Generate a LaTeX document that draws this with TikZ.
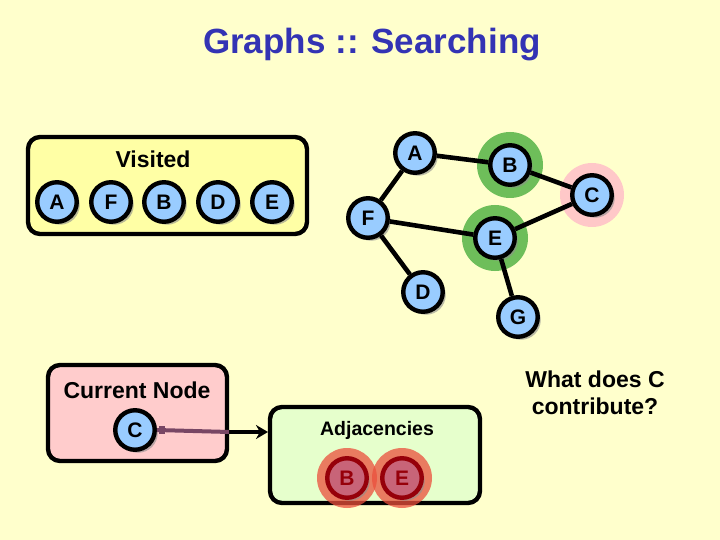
\documentclass[tikz,border=0pt]{standalone}
\usepackage{fontspec}
\setmainfont{Liberation Sans}
\usetikzlibrary{shadows,arrows.meta}

\definecolor{bgyellow}{RGB}{255,255,204}
\definecolor{boxyellow}{RGB}{255,255,165}
\definecolor{boxpink}{RGB}{255,204,204}
\definecolor{boxgreen}{RGB}{230,255,204}
\definecolor{nodeblue}{RGB}{153,204,255}
\definecolor{halogreen}{RGB}{110,190,90}
\definecolor{halopink}{RGB}{255,200,200}
\definecolor{halored}{RGB}{235,80,60}
\definecolor{adjfill}{RGB}{200,100,120}
\definecolor{adjline}{RGB}{150,0,10}
\definecolor{titleblue}{RGB}{51,51,180}
\definecolor{linkmauve}{RGB}{120,70,100}

\begin{document}
\begin{tikzpicture}[x=1pt,y=-1pt,
    vertex/.style={circle, draw=black, line width=4.4pt, fill=nodeblue,
      minimum size=39.5pt, inner sep=0pt, font=\fontsize{21}{21}\selectfont\bfseries,
      drop shadow={shadow xshift=3pt, shadow yshift=-3pt, fill=black!45, opacity=0.6}},
    adjvertex/.style={vertex, draw=adjline, fill=adjfill, text=adjline},
    panel/.style={draw=black, line width=4.4pt, rounded corners=12pt},
    edge/.style={line width=4.6pt},
    caption/.style={font=\fontsize{23}{27}\selectfont\bfseries}]
  \fill[bgyellow] (0,0) rectangle (720,540);
  \useasboundingbox (0,0) rectangle (720,540);

  \node[font=\fontsize{35}{35}\selectfont\bfseries, text=titleblue] (title) at (372,45) {Graphs :: Searching};

  % visited list
  \draw[panel, fill=boxyellow] (28,137) rectangle (307,234);
  \node[caption] (visited) at (153,159) {Visited};
  \node[vertex] (vA) at (57,202) {A};
  \node[vertex] (vF) at (111,202) {F};
  \node[vertex] (vB) at (164,202) {B};
  \node[vertex] (vD) at (218,202) {D};
  \node[vertex] (vE) at (272,202) {E};

  % the graph
  \fill[halogreen] (510,165) circle (33);
  \fill[halogreen] (495,238) circle (33);
  \fill[halopink] (592,195) circle (32);
  \node[vertex] (A) at (415,153) {A};
  \node[vertex] (B) at (510,165) {B};
  \node[vertex] (C) at (592,195) {C};
  \node[vertex] (F) at (368,218) {F};
  \node[vertex] (E) at (495,238) {E};
  \node[vertex] (D) at (423,292) {D};
  \node[vertex] (G) at (518,317) {G};
  \draw[edge] (A) -- (F);
  \draw[edge] (A) -- (B);
  \draw[edge] (B) -- (C);
  \draw[edge] (C) -- (E);
  \draw[edge] (F) -- (E);
  \draw[edge] (F) -- (D);
  \draw[edge] (E) -- (G);

  % current node
  \draw[panel, fill=boxpink] (48,365) rectangle (227,461);
  \node[caption] (current) at (137,390) {Current Node};
  \node[vertex] (cur) at (135,430) {C};
  \coordinate (rim) at (229.2,432);

  % adjacencies
  \draw[panel, fill=boxgreen] (270,407) rectangle (480,503);
  \node[font=\fontsize{19.5}{19.5}\selectfont\bfseries] (adj) at (377,430) {Adjacencies};
  \fill[halored, opacity=0.75] (347,478) circle (30);
  \fill[halored, opacity=0.75] (402,478) circle (30);
  \node[adjvertex] (aB) at (347,478) {B};
  \node[adjvertex] (aE) at (402,478) {E};
  \coordinate (adjin) at (268,432);

  \draw[line width=4pt, linkmauve] (cur.east) -- (rim);
  \fill[linkmauve] (cur.east) ++(2,-4) rectangle ++(6,8);
  \draw[line width=4pt, -{Stealth[length=12pt,width=14pt]}] (rim) -- (adjin);

  \node[caption, align=center] (question) at (595,393) {What does C\\contribute?};
\end{tikzpicture}
\end{document}
